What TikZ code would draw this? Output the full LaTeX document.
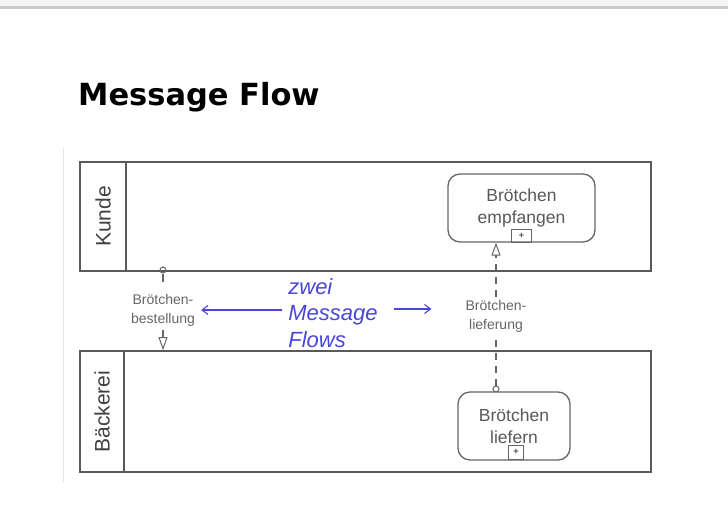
\documentclass[tikz,border=0pt]{standalone}
\usepackage{fontspec}
\setmainfont{Liberation Sans}
\newfontfamily\titlefont{DejaVu Sans}
\usetikzlibrary{arrows.meta,calc}
\definecolor{poolline}{HTML}{5A5A5A}
\definecolor{taskline}{HTML}{666666}
\definecolor{flowtext}{HTML}{666666}
\definecolor{msgblue}{HTML}{4A46D6}
\definecolor{topline}{HTML}{C9C9C9}
\definecolor{topband}{HTML}{F4F4F4}
\tikzset{
  pool/.style={draw=poolline,line width=1.6pt,minimum width=571pt,inner sep=0pt},
  poollabel/.style={rotate=90,font=\fontsize{21}{24}\selectfont,text=black!75},
  task/.style={draw=taskline,line width=1.3pt,rounded corners=12pt,minimum height=68pt,inner sep=0pt,align=center,text=black!65,font=\fontsize{17.5}{23}\selectfont},
  marker/.style={draw=taskline,line width=1pt,inner sep=0pt,font=\fontsize{9}{9}\selectfont\bfseries,text=black!70},
  flowlabel/.style={align=center,text=flowtext,font=\fontsize{14}{19}\selectfont,inner sep=3pt},
  msgline/.style={draw=black!60,line width=1.1pt},
  msgdash/.style={msgline,dash pattern=on 7pt off 6pt},
  startcirc/.style={circle,draw=black!60,line width=1pt,inner sep=0pt,minimum size=6pt},
  openhead/.style={-{Triangle[open,length=13pt,width=9pt,line width=1pt]}},
  bluearrow/.style={draw=msgblue,line width=1.1pt,-{Straight Barb[length=6pt,width=9pt]}},
}
\begin{document}
\begin{tikzpicture}[x=1pt,y=-1pt]
\useasboundingbox (0,0) rectangle (728,512);
\fill[white] (0,0) rectangle (728,512);
\fill[topband] (0,0) rectangle (728,7);
\draw[topline,line width=2.5pt] (0,7.5) -- (728,7.5);
\draw[black!10,line width=1pt] (63,148) -- (63,482);

% title
\node[anchor=base west,inner sep=0pt,font=\titlefont\bfseries\fontsize{30.5}{33}\selectfont] (title) at (78,105) {Message Flow};

% pools
\node[pool,minimum height=109pt] (kunde) at (365.5,216.5) {};
\draw[poolline,line width=1.6pt] (126,162) -- (126,271);
\node[poollabel] (kundelab) at (103,216.5) {Kunde};

\node[pool,minimum height=121pt] (back) at (365.5,411.5) {};
\draw[poolline,line width=1.6pt] (124,351) -- (124,472);
\node[poollabel] (backlab) at (102,411.5) {Bäckerei};

% tasks
\node[task,minimum width=147pt] (empf) at (521.5,208) {Brötchen\\[-1pt]empfangen};
\node[marker,minimum width=20pt,minimum height=13pt] (m1) at (521.5,235.5) {+};
\node[task,minimum width=112pt] (lief) at (514,426) {Brötchen\\[-1pt]liefern};
\node[marker,minimum width=15pt,minimum height=14pt] (m2) at (516,452) {+};

% flow labels
\node[flowlabel] (lab1) at (163,310) {Brötchen-\\bestellung};
\node[flowlabel] (lab2) at (496,316) {Brötchen-\\lieferung};

% message flow 1
\node[startcirc] (s1) at (163,270) {};
\draw[msgline] (s1.south) -- (163,282);
\draw[msgline,openhead] (163,330) -- (back.north -| lab1);

% message flow 2
\node[startcirc] (s2) at (496,389) {};
\draw[msgdash] (s2.north) -- (lab2.south);
\draw[msgdash,openhead] (lab2.north) -- (empf.south -| lab2);

% blue annotation
\node[align=left,text=msgblue,font=\itshape\fontsize{22}{26.5}\selectfont,inner sep=2pt] (zm) at (333,313) {zwei\\Message\\Flows};
\draw[bluearrow,shorten <=4pt,shorten >=3pt] (zm.west |- lab1.east) -- (lab1.east);
\draw[bluearrow,shorten <=14pt,shorten >=31pt] (zm.east |- 0,309) -- (lab2.west |- 0,309);
\end{tikzpicture}
\end{document}
